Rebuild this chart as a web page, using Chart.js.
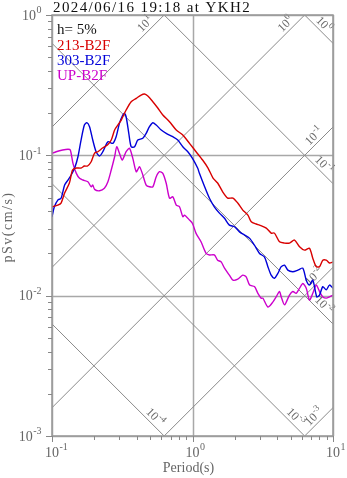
<!DOCTYPE html>
<html>
<head>
<meta charset="utf-8">
<script src="https://cdn.jsdelivr.net/npm/chart.js@4"></script>
<style>
  html, body { margin: 0; padding: 0; background: #fff; }
</style>
</head>
<body>
<canvas id="spec" width="347" height="478"></canvas>
<script>
const titleText = "2024/06/16 19:18 at YKH2";
const dampingText = "h= 5%";
const seriesNames = ["213-B2F", "303-B2F", "UP-B2F"];
const seriesColors = ["#d80000", "#0000d8", "#cc00cc"];

// period (s) / pSv (cm/s)
const periods213 = [0.100,0.110,0.116,0.123,0.133,0.140,0.149,0.161,0.170,0.179,0.190,0.201,0.212,0.229,0.248,0.264,0.279,0.294,0.311,0.337,0.366,0.398,0.431,0.455,0.481,0.522,0.566,0.615,0.686,0.766,0.853,0.952,1.06,1.18,1.29,1.40,1.51,1.64,1.78,1.94,2.10,2.28,2.48,2.62,2.84,3.00,3.35,3.63,3.83,4.16,4.52,4.90,5.32,5.78,6.27,6.80,7.18,7.59,8.02,8.46,8.95,9.44,10.0];
const sv213 = [0.0430,0.0442,0.0457,0.0539,0.0635,0.0786,0.0812,0.0812,0.0839,0.0839,0.0900,0.1038,0.1061,0.1127,0.1184,0.1285,0.1515,0.1644,0.1784,0.2103,0.2410,0.2548,0.2690,0.2735,0.2647,0.2410,0.2174,0.1937,0.1736,0.1515,0.1395,0.1217,0.1061,0.0926,0.0812,0.0689,0.0635,0.0550,0.0496,0.0496,0.0457,0.0407,0.0375,0.0336,0.0324,0.0318,0.0303,0.0279,0.0279,0.0242,0.0237,0.0237,0.0249,0.0223,0.0211,0.0218,0.0185,0.0161,0.0161,0.0179,0.0179,0.0171,0.0174];

const periods303 = [0.100,0.104,0.110,0.116,0.123,0.130,0.137,0.145,0.153,0.161,0.170,0.177,0.185,0.195,0.206,0.218,0.230,0.250,0.271,0.286,0.302,0.319,0.328,0.337,0.352,0.366,0.387,0.408,0.443,0.468,0.494,0.522,0.552,0.599,0.650,0.724,0.786,0.853,0.926,1.00,1.09,1.12,1.22,1.32,1.43,1.56,1.69,1.83,1.99,2.16,2.35,2.55,2.76,3.00,3.25,3.44,3.63,3.83,4.05,4.28,4.52,4.77,5.17,5.62,6.10,6.45,6.80,7.18,7.67,8.02,8.46,8.95,9.44,10.0];
const sv303 = [0.0365,0.0430,0.0480,0.0494,0.0614,0.0667,0.0724,0.0812,0.0977,0.1285,0.1644,0.1708,0.1599,0.1285,0.1061,0.0989,0.1061,0.1250,0.1217,0.1357,0.1691,0.1937,0.1992,0.1884,0.1435,0.1151,0.1151,0.1285,0.1322,0.1435,0.1599,0.1708,0.1644,0.1515,0.1435,0.1357,0.1285,0.1151,0.1061,0.0952,0.0808,0.0744,0.0597,0.0494,0.0430,0.0386,0.0356,0.0318,0.0310,0.0285,0.0270,0.0256,0.0229,0.0200,0.0189,0.0161,0.0140,0.0133,0.0144,0.0161,0.0165,0.0152,0.0148,0.0152,0.0157,0.0129,0.0119,0.0129,0.0098,0.0101,0.0116,0.0110,0.0119,0.0113];

const periodsUP = [0.100,0.107,0.119,0.130,0.135,0.141,0.149,0.157,0.166,0.180,0.190,0.195,0.201,0.218,0.236,0.250,0.264,0.279,0.289,0.302,0.316,0.337,0.356,0.376,0.398,0.420,0.443,0.468,0.494,0.522,0.552,0.582,0.615,0.650,0.686,0.724,0.766,0.808,0.853,0.877,0.952,1.00,1.06,1.15,1.25,1.32,1.43,1.51,1.60,1.69,1.83,1.94,2.10,2.28,2.41,2.55,2.76,2.92,3.08,3.17,3.44,3.73,3.94,4.16,4.28,4.52,4.90,5.17,5.47,5.78,6.10,6.45,6.80,7.18,7.59,8.02,8.46,8.95,9.44,10.0];
const svUP = [0.1033,0.1061,0.1091,0.1104,0.1091,0.0877,0.0744,0.0686,0.0667,0.0648,0.0597,0.0614,0.0572,0.0559,0.0582,0.0648,0.0786,0.0977,0.1151,0.1033,0.0926,0.1061,0.1122,0.0952,0.0764,0.0829,0.0724,0.0614,0.0597,0.0597,0.0704,0.0764,0.0744,0.0632,0.0494,0.0507,0.0442,0.0430,0.0365,0.0375,0.0346,0.0327,0.0278,0.0242,0.0200,0.0195,0.0195,0.0179,0.0174,0.0157,0.0140,0.0129,0.0131,0.0140,0.0136,0.0119,0.0116,0.0104,0.0096,0.0096,0.0083,0.0090,0.0098,0.0107,0.0098,0.0086,0.0101,0.0107,0.0104,0.0113,0.0122,0.0113,0.0093,0.0104,0.0119,0.0107,0.0098,0.0096,0.0098,0.0101];

// axis decades (exponents) and tripartite levels
const xTickExps = [-1, 0, 1];
const yTickExps = [-3, -2, -1, 0];
const accelExps = [-3, -2, -1, 0, 1];   // Sa, cm/s^2
const dispExps = [-4, -3, -2, -1, 0];   // Sd, cm

const FONT = "'Liberation Serif', 'Times New Roman', serif";
const TXT = "#666";
const LOG2PI = Math.log10(2 * Math.PI);

function toPoints(ts, vs) {
  const n = Math.min(ts.length, vs.length);
  const out = [];
  for (let i = 0; i < n; i++) out.push({ x: ts[i], y: vs[i] });
  return out;
}

// "10" with a raised exponent
function drawPow(ctx, exp, x, y, size, align) {
  const small = Math.round(size * 0.72);
  ctx.font = size + "px " + FONT;
  const wb = ctx.measureText("10").width;
  ctx.font = small + "px " + FONT;
  const we = ctx.measureText(String(exp)).width;
  let x0 = x;
  if (align === "right") x0 = x - wb - we;
  else if (align === "center") x0 = x - (wb + we) / 2;
  else if (align === "base") x0 = x - wb / 2;
  ctx.textAlign = "left";
  ctx.textBaseline = "middle";
  ctx.font = size + "px " + FONT;
  ctx.fillText("10", x0, y);
  ctx.font = small + "px " + FONT;
  ctx.fillText(String(exp), x0 + wb + 0.5, y - size * 0.38);
}

const tripartite = {
  id: "tripartite",
  beforeDatasetsDraw(chart) {
    const { ctx, chartArea: a, scales: { x, y } } = chart;
    ctx.save();

    // decade grid
    ctx.strokeStyle = "#a8a8a8";
    ctx.lineWidth = 1.5;
    ctx.beginPath();
    xTickExps.forEach(e => {
      const px = Math.round(x.getPixelForValue(Math.pow(10, e))) + 0.5;
      ctx.moveTo(px, a.top); ctx.lineTo(px, a.bottom);
    });
    yTickExps.forEach(e => {
      const py = Math.round(y.getPixelForValue(Math.pow(10, e))) + 0.5;
      ctx.moveTo(a.left, py); ctx.lineTo(a.right, py);
    });
    ctx.stroke();

    // diagonal acceleration / displacement lines
    ctx.beginPath();
    ctx.rect(a.left, a.top, a.right - a.left, a.bottom - a.top);
    ctx.clip();
    ctx.strokeStyle = "#8a8a8a";
    ctx.lineWidth = 1;
    const labels = [];
    const addLine = (lo, hi, f, exp) => {
      if (lo >= hi) return;
      const p0 = { x: x.getPixelForValue(Math.pow(10, lo)), y: y.getPixelForValue(Math.pow(10, f(lo))) };
      const p1 = { x: x.getPixelForValue(Math.pow(10, hi)), y: y.getPixelForValue(Math.pow(10, f(hi))) };
      ctx.beginPath();
      ctx.moveTo(p0.x, p0.y); ctx.lineTo(p1.x, p1.y);
      ctx.stroke();
      labels.push({ p0, p1, exp });
    };
    accelExps.forEach(k => {
      const f = lt => k + lt - LOG2PI;
      addLine(Math.max(-1, -3 - k + LOG2PI), Math.min(1, -k + LOG2PI), f, k);
    });
    dispExps.forEach(k => {
      const f = lt => k + LOG2PI - lt;
      addLine(Math.max(-1, k + LOG2PI), Math.min(1, k + LOG2PI + 3), f, k);
    });
    ctx.restore();

    // level labels near the far end of each line
    ctx.save();
    ctx.fillStyle = "#6a6a6a";
    labels.forEach(l => {
      const dx = l.p1.x - l.p0.x, dy = l.p1.y - l.p0.y;
      const len = Math.hypot(dx, dy);
      const ux = dx / len, uy = dy / len;
      const along = 20, perp = 6.5;
      // normal pointing to the upper side of the line
      const nx = uy, ny = -ux;
      const cx = l.p1.x - ux * along + nx * perp;
      const cy = l.p1.y - uy * along + ny * perp;
      ctx.save();
      ctx.translate(cx, cy);
      ctx.rotate(Math.atan2(dy, dx));
      drawPow(ctx, l.exp, 0, 0, 12, "center");
      ctx.restore();
    });
    ctx.restore();
  },
  afterDraw(chart) {
    const { ctx, chartArea: a, scales: { x, y } } = chart;
    ctx.save();

    // frame
    ctx.strokeStyle = "#999";
    ctx.lineWidth = 1.5;
    ctx.strokeRect(a.left, a.top, a.right - a.left, a.bottom - a.top);

    // ticks
    ctx.strokeStyle = "#888";
    ctx.lineWidth = 1;
    ctx.beginPath();
    for (let e = -1; e < 1; e++) {
      for (let m = 2; m <= 9; m++) {
        const px = Math.round(x.getPixelForValue(m * Math.pow(10, e))) + 0.5;
        ctx.moveTo(px, a.bottom); ctx.lineTo(px, a.bottom + 4);
      }
    }
    xTickExps.forEach(e => {
      const px = Math.round(x.getPixelForValue(Math.pow(10, e))) + 0.5;
      ctx.moveTo(px, a.bottom); ctx.lineTo(px, a.bottom + 6);
    });
    for (let e = -3; e < 0; e++) {
      for (let m = 2; m <= 9; m++) {
        const py = Math.round(y.getPixelForValue(m * Math.pow(10, e))) + 0.5;
        ctx.moveTo(a.left - 4, py); ctx.lineTo(a.left, py);
      }
    }
    yTickExps.forEach(e => {
      const py = Math.round(y.getPixelForValue(Math.pow(10, e))) + 0.5;
      ctx.moveTo(a.left - 6, py); ctx.lineTo(a.left, py);
    });
    ctx.stroke();

    // tick labels
    ctx.fillStyle = TXT;
    yTickExps.forEach(e => {
      drawPow(ctx, e, 41, y.getPixelForValue(Math.pow(10, e)) + 1, 14, "right");
    });
    xTickExps.forEach(e => {
      drawPow(ctx, e, x.getPixelForValue(Math.pow(10, e)), 453, 14, "base");
    });

    // axis titles
    ctx.font = "14px " + FONT;
    ctx.textAlign = "center";
    ctx.textBaseline = "middle";
    ctx.fillText("Period(s)", (a.left + a.right) / 2 - 4, 468);
    ctx.save();
    ctx.translate(8, 227);
    ctx.rotate(-Math.PI / 2);
    ctx.letterSpacing = "1.5px";
    ctx.fillText("pSv(cm/s)", 0, 0);
    ctx.restore();

    // title
    ctx.fillStyle = "#111";
    ctx.font = "15px " + FONT;
    ctx.textAlign = "left";
    ctx.textBaseline = "alphabetic";
    ctx.letterSpacing = "1.4px";
    ctx.fillText(titleText, a.left + 1, 12);
    ctx.letterSpacing = "0px";

    // legend block
    ctx.fillText(dampingText, a.left + 5, 34);
    seriesNames.forEach((name, i) => {
      ctx.fillStyle = seriesColors[i];
      ctx.fillText(name, a.left + 5, 50 + i * 15);
    });
    ctx.restore();
  }
};

const series = [
  toPoints(periods213, sv213),
  toPoints(periods303, sv303),
  toPoints(periodsUP, svUP)
];

new Chart(document.getElementById("spec"), {
  type: "line",
  data: {
    datasets: series.map((pts, i) => ({
      label: seriesNames[i],
      data: pts,
      borderColor: seriesColors[i],
      borderWidth: 1.4,
      pointRadius: 0,
      tension: 0.25,
      fill: false
    }))
  },
  options: {
    responsive: false,
    animation: false,
    devicePixelRatio: 1,
    layout: { padding: { top: 15, right: 14, left: 0, bottom: 0 } },
    plugins: {
      legend: { display: false },
      tooltip: { enabled: false },
      title: { display: false }
    },
    scales: {
      x: {
        type: "logarithmic",
        min: 0.1, max: 10,
        grid: { display: false },
        border: { display: false },
        ticks: { display: false },
        afterFit: s => { s.height = 42; }
      },
      y: {
        type: "logarithmic",
        min: 0.001, max: 1,
        grid: { display: false },
        border: { display: false },
        ticks: { display: false },
        afterFit: s => { s.width = 52; }
      }
    }
  },
  plugins: [tripartite]
});
</script>
</body>
</html>
